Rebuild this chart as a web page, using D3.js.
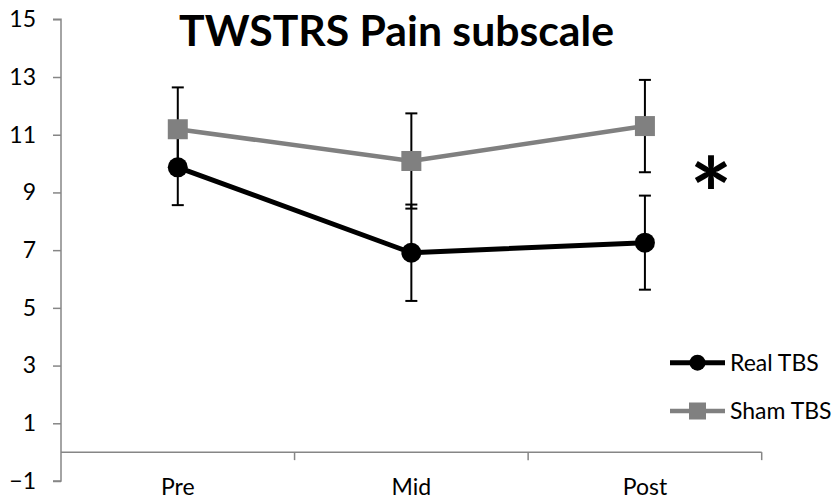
<!DOCTYPE html>
<html>
<head>
<meta charset="utf-8">
<script src="https://cdn.jsdelivr.net/npm/d3@7"></script>
<style>
  html, body { margin: 0; padding: 0; background: #fff; }
  svg { display: block; }
  text { font-family: Lato, "Open Sans", sans-serif; }
</style>
</head>
<body>
<svg id="chart" width="836" height="499"></svg>
<script>
// TWSTRS pain subscale: group means with error bars at three time points
const categories = ["Pre", "Mid", "Post"];
const realTBS = [9.87, 6.91, 7.26];
const realErr = [1.31, 1.67, 1.63];
const shamTBS = [11.19, 10.09, 11.30];
const shamErr = [1.45, 1.65, 1.60];
const yTicks = [-1, 1, 3, 5, 7, 9, 11, 13, 15];
const seriesNames = ["Real TBS", "Sham TBS"];

const svg = d3.select("#chart");

const x = d3.scaleBand().domain(categories).range([61, 761.7]).padding(0);
const y = d3.scaleLinear().domain([-1, 15]).range([481, 19.3]);
const cx = c => x(c) + x.bandwidth() / 2;

const axisColor = "#868686";
const labelSize = "23px";

// Vertical axis
const yAxis = svg.append("g").attr("transform", "translate(61,0)")
  .call(d3.axisLeft(y).tickValues(yTicks).tickSize(8).tickPadding(17).tickFormat(d3.format("d")));
yAxis.select(".domain").attr("stroke", axisColor).attr("stroke-width", 1.5)
  .attr("d", `M-8,${y(-1)}H0V${y(15)}H-8`);
yAxis.selectAll(".tick line").attr("stroke", axisColor).attr("stroke-width", 1.5);
yAxis.selectAll(".tick text").attr("fill", "#000").style("font-size", labelSize)
  .style("font-family", "Lato, sans-serif");

// Horizontal axis crossing at zero
const xAxis = svg.append("g").attr("transform", `translate(0,${y(0)})`)
  .call(d3.axisBottom(x).tickSize(0).tickPadding(0));
xAxis.select(".domain").attr("stroke", axisColor).attr("stroke-width", 1.5)
  .attr("d", `M61,0H761.7`);
xAxis.selectAll(".tick text").remove();
// category boundary ticks
const bounds = categories.map(c => x(c) + x.bandwidth());
xAxis.selectAll("line.bound").data(bounds).enter().append("line")
  .attr("class", "bound")
  .attr("x1", d => d).attr("x2", d => d).attr("y1", 0).attr("y2", 8)
  .attr("stroke", axisColor).attr("stroke-width", 1.5);

// Category labels at the bottom
svg.append("g").selectAll("text").data(categories).enter().append("text")
  .attr("x", d => cx(d)).attr("y", 495)
  .attr("text-anchor", "middle").style("font-size", labelSize).attr("fill", "#000")
  .text(d => d);

// Series setup
const series = [
  { name: seriesNames[0], values: realTBS, err: realErr, color: "#000000", width: 5, marker: "circle" },
  { name: seriesNames[1], values: shamTBS, err: shamErr, color: "#808080", width: 4.5, marker: "square" }
];

// Error bars
const errG = svg.append("g");
series.forEach(s => {
  categories.forEach((c, i) => {
    const px = cx(c);
    const lo = y(s.values[i] - s.err[i]);
    const hi = y(s.values[i] + s.err[i]);
    errG.append("line").attr("x1", px).attr("x2", px).attr("y1", lo).attr("y2", hi)
      .attr("stroke", "#000").attr("stroke-width", 2);
    [lo, hi].forEach(yy => errG.append("line")
      .attr("x1", px - 6).attr("x2", px + 6).attr("y1", yy).attr("y2", yy)
      .attr("stroke", "#000").attr("stroke-width", 2));
  });
});

// Lines and markers
const line = d3.line().x((d, i) => cx(categories[i])).y(d => y(d));
series.forEach(s => {
  svg.append("path").datum(s.values).attr("d", line)
    .attr("fill", "none").attr("stroke", s.color).attr("stroke-width", s.width)
    .attr("stroke-linejoin", "round");
});
series.forEach(s => {
  const g = svg.append("g");
  s.values.forEach((v, i) => {
    if (s.marker === "circle") {
      g.append("circle").attr("cx", cx(categories[i])).attr("cy", y(v)).attr("r", 10).attr("fill", s.color);
    } else {
      g.append("rect").attr("x", cx(categories[i]) - 10).attr("y", y(v) - 10)
        .attr("width", 20).attr("height", 20).attr("fill", s.color);
    }
  });
});

// Significance marker
svg.append("text").attr("x", 711).attr("y", 231).attr("text-anchor", "middle")
  .style("font-size", "100px").style("font-weight", "bold").attr("fill", "#000").text("*");

// Legend
const legend = svg.append("g");
series.forEach((s, i) => {
  const ly = 362.7 + i * 48.3;
  legend.append("line").attr("x1", 670).attr("x2", 725).attr("y1", ly).attr("y2", ly)
    .attr("stroke", s.color).attr("stroke-width", s.width);
  if (s.marker === "circle") {
    legend.append("circle").attr("cx", 697.5).attr("cy", ly).attr("r", 8).attr("fill", s.color);
  } else {
    legend.append("rect").attr("x", 689).attr("y", ly - 8.5).attr("width", 17).attr("height", 17).attr("fill", s.color);
  }
  legend.append("text").attr("x", 730).attr("y", ly + 8).style("font-size", labelSize)
    .attr("fill", "#000").text(s.name);
});

// Title
const title = svg.append("text").attr("x", 396.5).attr("y", 45.5).attr("text-anchor", "middle")
  .style("font-size", "32px").style("font-weight", "bold").attr("fill", "#000")
  .text("TWSTRS Pain subscale");
const tw = title.node().getComputedTextLength();
title.style("font-size", (32 * 435 / tw).toFixed(2) + "px");
</script>
</body>
</html>
